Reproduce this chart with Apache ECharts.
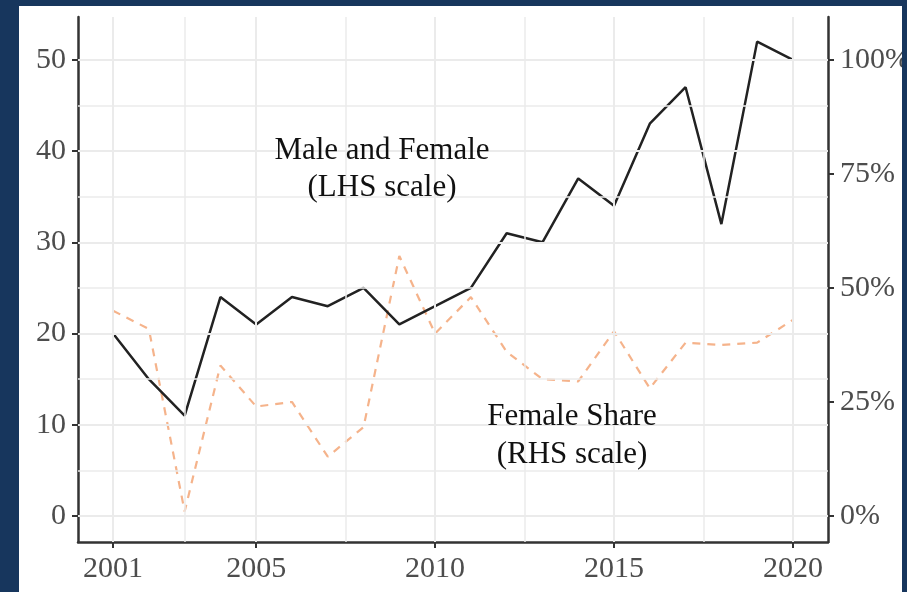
<!DOCTYPE html>
<html>
<head>
<meta charset="utf-8">
<script src="https://cdn.jsdelivr.net/npm/echarts@6/dist/echarts.min.js"></script>
<style>
  html, body { margin: 0; padding: 0; background: #17365d; }
  #chart { width: 907px; height: 592px; }
</style>
</head>
<body>
<div id="chart"></div>
<script>
// data
var years = [2001, 2002, 2003, 2004, 2005, 2006, 2007, 2008, 2009, 2010,
             2011, 2012, 2013, 2014, 2015, 2016, 2017, 2018, 2019, 2020]
var total = [20, 15, 11, 24, 21, 24, 23, 25, 21, 23,
             25, 31, 30, 37, 34, 43, 47, 32, 52, 50]
var femaleShare = [45, 41, 1, 33, 24, 25, 13, 19.5, 57, 40,
                   48, 36, 30, 29.5, 40.5, 28, 38, 37.5, 38, 43]

var xTicks = [2001, 2005, 2010, 2015, 2020]
var xMinorGrid = [2003, 2007.5, 2012.5, 2017.5]
var leftTicks = [0, 10, 20, 30, 40, 50]
var leftMinorGrid = [5, 15, 25, 35, 45]
var rightTicks = [0, 25, 50, 75, 100]

var serif = 'Liberation Serif'
var labelColor = '#4d4d4d'
var axisColor = '#333333'

function gridLines(vals, key, width) {
  return vals.map(function (v) {
    var d = {}
    d[key] = v
    d.lineStyle = { color: '#ebebeb', width: width, type: 'solid' }
    return d
  })
}

var myChart = echarts.init(document.getElementById('chart'))

myChart.setOption({
  backgroundColor: '#17365d',
  animation: false,
  graphic: [
    { type: 'rect', shape: { x: 19, y: 6, width: 883, height: 600 }, style: { fill: '#ffffff' }, z: -10, silent: true },
    { type: 'rect', shape: { x: 902, y: 0, width: 10, height: 600 }, style: { fill: '#17365d' }, z: 100, silent: true },
    {
      type: 'text', x: 382, y: 169, z: 50,
      style: {
        text: 'Male and Female\n(LHS scale)', font: '31px "Liberation Serif"',
        fill: '#111', align: 'center', verticalAlign: 'middle', lineHeight: 37
      }
    },
    {
      type: 'text', x: 572, y: 436, z: 50,
      style: {
        text: 'Female Share\n(RHS scale)', font: '31px "Liberation Serif"',
        fill: '#111', align: 'center', verticalAlign: 'middle', lineHeight: 38
      }
    }
  ],
  grid: { left: 78, right: 79, top: 17, bottom: 50, containLabel: false, outerBoundsMode: 'none' },
  xAxis: {
    type: 'value',
    min: 2000.02,
    max: 2020.98,
    splitLine: { show: false },
    axisLine: { show: true, onZero: false, lineStyle: { color: axisColor, width: 2.5 } },
    axisTick: { show: true, customValues: xTicks, length: 6, lineStyle: { color: axisColor, width: 2 } },
    axisLabel: {
      customValues: xTicks, margin: 12, color: labelColor, fontFamily: serif, fontSize: 30,
      formatter: function (v) { return String(v) }
    }
  },
  yAxis: [
    {
      type: 'value',
      min: -2.85,
      max: 54.7,
      splitLine: { show: false },
      axisLine: { show: true, onZero: false, lineStyle: { color: axisColor, width: 2.5 } },
      axisTick: { show: true, customValues: leftTicks, length: 6, lineStyle: { color: axisColor, width: 2 } },
      axisLabel: { customValues: leftTicks, margin: 12, color: labelColor, fontFamily: serif, fontSize: 30 }
    },
    {
      type: 'value',
      position: 'right',
      min: -5.7,
      max: 109.4,
      splitLine: { show: false },
      axisLine: { show: true, onZero: false, lineStyle: { color: axisColor, width: 2.5 } },
      axisTick: { show: true, customValues: rightTicks, length: 6, lineStyle: { color: axisColor, width: 2 } },
      axisLabel: { customValues: rightTicks, margin: 12, color: labelColor, fontFamily: serif, fontSize: 30, formatter: '{value}%' }
    }
  ],
  series: [
    {
      // panel grid lines
      type: 'line',
      data: [],
      silent: true,
      z: 1,
      markLine: {
        silent: true,
        symbol: 'none',
        label: { show: false },
        animation: false,
        data: []
          .concat(gridLines(xTicks, 'xAxis', 2))
          .concat(gridLines(xMinorGrid, 'xAxis', 1.5))
          .concat(gridLines(leftTicks, 'yAxis', 2))
          .concat(gridLines(leftMinorGrid, 'yAxis', 1.5))
      }
    },
    {
      name: 'Female Share',
      type: 'line',
      yAxisIndex: 1,
      z: 3,
      symbol: 'none',
      data: years.map(function (y, i) { return [y, femaleShare[i]] }),
      lineStyle: { color: '#f5b38b', width: 2.2, type: [8, 7] }
    },
    {
      name: 'Male and Female',
      type: 'line',
      yAxisIndex: 0,
      z: 4,
      symbol: 'none',
      data: years.map(function (y, i) { return [y, total[i]] }),
      lineStyle: { color: '#222222', width: 2.5 }
    }
  ]
})
</script>
</body>
</html>
